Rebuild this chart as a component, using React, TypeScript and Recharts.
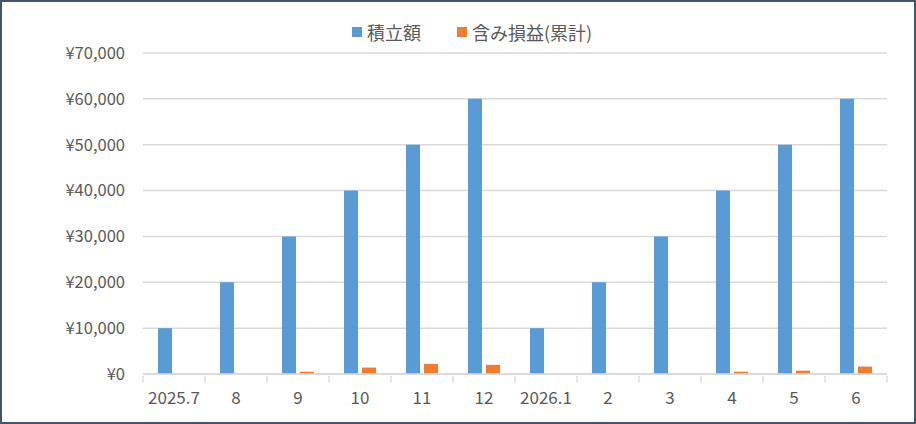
import { BarChart, Bar, XAxis, YAxis, CartesianGrid, Legend } from "recharts";

const months = ["2025.7", "8", "9", "10", "11", "12", "2026.1", "2", "3", "4", "5", "6"];
const contributions = [10000, 20000, 30000, 40000, 50000, 60000, 10000, 20000, 30000, 40000, 50000, 60000];
const gains = [0, 0, 500, 1400, 2200, 2000, 0, 0, 0, 500, 730, 1620];
const yTicks = [0, 10000, 20000, 30000, 40000, 50000, 60000, 70000];

const data = months.map((m, i) => ({ month: m, contrib: contributions[i], gain: gains[i] }));

const BLUE = "#5B9BD5";
const ORANGE = "#ED7D31";
const GRID = "#D9D9D9";
const TEXT = "#595959";
const FONT = "'Noto Sans CJK JP', 'Noto Sans', sans-serif";

const yen = (v: number) => "¥" + v.toLocaleString("en-US");

function MonthTick(props: any) {
  const { x, y, payload, index } = props;
  const half = 31;
  return (
    <g>
      <line x1={x - half} x2={x - half} y1={y - 6} y2={y} stroke={GRID} strokeWidth={1.5} />
      {index === months.length - 1 && (
        <line x1={x + half} x2={x + half} y1={y - 6} y2={y} stroke={GRID} strokeWidth={1.5} />
      )}
      <text x={x} y={y + 22} textAnchor="middle" fill={TEXT} fontSize={17} fontFamily={FONT}>
        {payload.value}
      </text>
    </g>
  );
}

function LegendBox() {
  const items = [
    { label: "積立額", color: BLUE },
    { label: "含み損益(累計)", color: ORANGE },
  ];
  return (
    <div style={{ display: "flex", alignItems: "center", gap: 36, fontFamily: FONT, fontSize: 18, color: TEXT }}>
      {items.map((it) => (
        <div key={it.label} style={{ display: "flex", alignItems: "center", gap: 5 }}>
          <div style={{ width: 10, height: 10, background: it.color }} />
          <span>{it.label}</span>
        </div>
      ))}
    </div>
  );
}

export default function App() {
  return (
    <div
      style={{
        position: "fixed",
        left: 0,
        top: 0,
        width: 916,
        height: 424,
        boxSizing: "border-box",
        border: "2px solid #44546A",
        background: "#fff",
      }}
    >
      <BarChart
        width={912}
        height={420}
        data={data}
        margin={{ top: 51, right: 27, bottom: 0, left: 0 }}
        barGap={4}
        barCategoryGap={15}
      >
        <CartesianGrid vertical={false} stroke={GRID} strokeWidth={1.5} />
        <Legend
          verticalAlign="top"
          content={() => <LegendBox />}
          wrapperStyle={{ position: "absolute", top: 17, left: 350, width: "auto", height: 0 }}
        />
        <XAxis
          dataKey="month"
          height={48}
          axisLine={{ stroke: GRID, strokeWidth: 1.5 }}
          tickLine={false}
          tick={<MonthTick />}
          interval={0}
          tickSize={6}
        />
        <YAxis
          width={141}
          domain={[0, 70000]}
          ticks={yTicks}
          tickFormatter={yen}
          axisLine={false}
          tickLine={false}
          tickSize={6}
          tickMargin={12}
          tick={{ fill: TEXT, fontSize: 16.5, fontFamily: FONT }}
        />
        <Bar dataKey="contrib" name="積立額" fill={BLUE} isAnimationActive={false} />
        <Bar dataKey="gain" name="含み損益(累計)" fill={ORANGE} isAnimationActive={false} />
      </BarChart>
    </div>
  );
}
